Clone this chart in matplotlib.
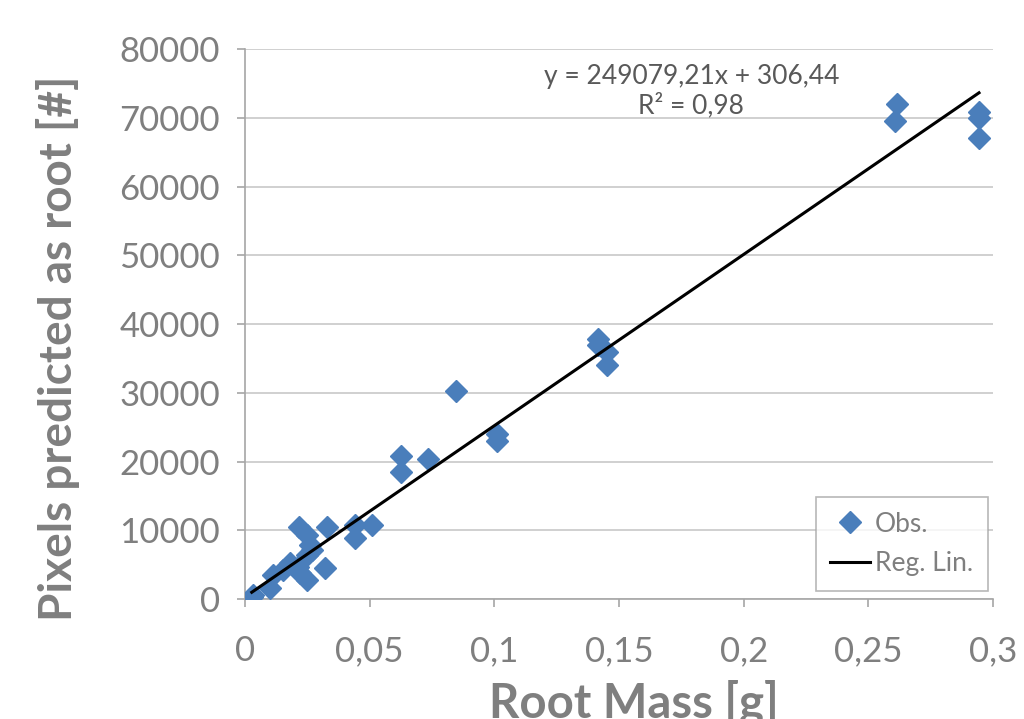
import numpy as np
import matplotlib
matplotlib.use("Agg")
import matplotlib.pyplot as plt
from matplotlib.ticker import FuncFormatter, MultipleLocator

# observed values (root mass [g], pixels predicted as root)
root_mass = [0.0028, 0.0033, 0.0100, 0.0114, 0.0154, 0.0180, 0.0214, 0.0220,
             0.0247, 0.0267, 0.0260, 0.0247, 0.0217, 0.0247, 0.0320, 0.0330,
             0.0441, 0.0441, 0.0508, 0.0626, 0.0626, 0.0734, 0.0846, 0.1010,
             0.1010, 0.1416, 0.1416, 0.1452, 0.1452, 0.2607, 0.2615, 0.2944,
             0.2944, 0.2944]
pixels = [300, 580, 1550, 3490, 4220, 5190, 4700, 3730,
          6400, 7130, 7850, 9300, 10430, 2760, 4460, 10430,
          10760, 8830, 10760, 20800, 18500, 20300, 30250, 24000,
          23000, 37800, 37000, 36000, 34000, 69500, 72000, 70800,
          70000, 67000]

slope = 249079.21
intercept = 306.44
eq_text = "y = 249079,21x + 306,44\nR² = 0,98"

grey = "#7f7f7f"
blue = "#4a7ebb"

plt.rcParams['font.family'] = ['Lato', 'DejaVu Sans']

fig = plt.figure(figsize=(10.24, 7.19), dpi=100)
ax = fig.add_axes([0.2393, 0.1669, 0.7304, 0.7649])

ax.plot(root_mass, pixels, linestyle='none', marker='D', ms=11,
        color=blue, label='Obs.', zorder=3)

xs = np.array([min(root_mass) - 0.0001, max(root_mass)])
ax.plot(xs, slope * xs + intercept, color='black', lw=2.2, label='Reg. Lin.', zorder=4)

ax.set_xlim(0, 0.3)
ax.set_ylim(0, 80000)
ax.xaxis.set_major_locator(MultipleLocator(0.05))
ax.yaxis.set_major_locator(MultipleLocator(10000))


def comma_fmt(v, pos):
    if abs(v) < 1e-9:
        return "0"
    return ("%g" % round(v, 4)).replace('.', ',')


ax.xaxis.set_major_formatter(FuncFormatter(comma_fmt))
ax.yaxis.set_major_formatter(FuncFormatter(lambda v, p: "%d" % v))

ax.grid(axis='y', color='#c8c8c8', lw=1.2)
ax.set_axisbelow(True)
for s in ['top', 'right']:
    ax.spines[s].set_visible(False)
for s in ['left', 'bottom']:
    ax.spines[s].set_color('#a6a6a6')
    ax.spines[s].set_linewidth(1.2)

ax.tick_params(axis='both', colors='#a6a6a6', labelcolor=grey, labelsize=25,
               length=6, width=1.2, direction='out')
ax.tick_params(axis='x', pad=20)
ax.tick_params(axis='y', pad=12)

ax.set_xlabel("Root Mass [g]", fontsize=34, fontweight='bold', color=grey, labelpad=9)
ax.set_ylabel("Pixels predicted as root [#]", fontsize=33, fontweight='bold', color=grey, labelpad=28)
ax.xaxis.label.set_x(0.52)
ax.yaxis.label.set_y(0.456)

ax.text(0.179, 73900, eq_text, ha='center', va='center', fontsize=19,
        color='#595959', linespacing=1.15)

leg = ax.legend(loc='lower right', bbox_to_anchor=(0.993, 0.015), fontsize=19,
                frameon=True, fancybox=False, handlelength=1.5, handletextpad=0.2,
                borderpad=0.55, labelspacing=0.55, borderaxespad=0)
leg.get_frame().set_edgecolor('#a6a6a6')
leg.get_frame().set_linewidth(1.2)
for t in leg.get_texts():
    t.set_color(grey)

fig.savefig("out.png", dpi=100)
